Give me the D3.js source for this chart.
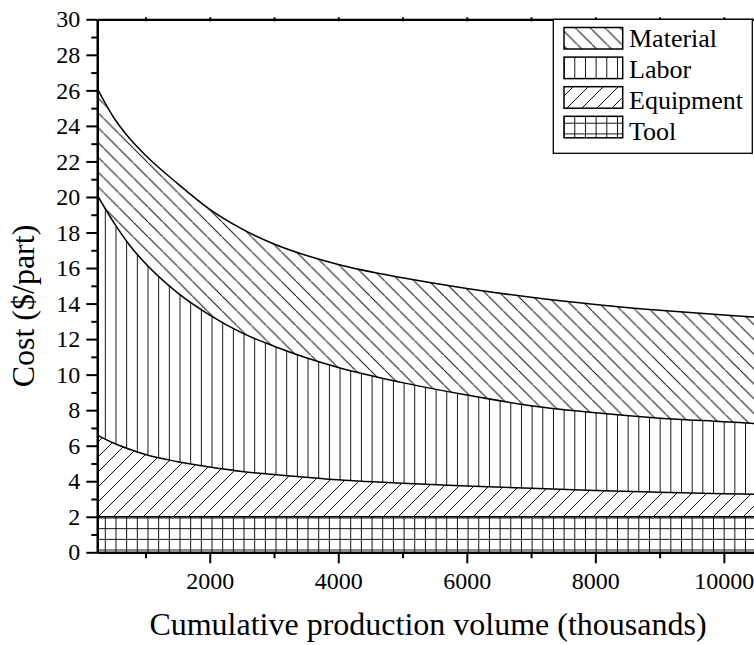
<!DOCTYPE html>
<html lang="en">
<head>
<meta charset="UTF-8">
<title>Cost breakdown vs cumulative production volume</title>
<script src="https://d3js.org/d3.v7.min.js"></script>
<style>
  body { margin: 0; background: #fff; }
  svg text { font-family: "Liberation Serif", "Times New Roman", serif; fill: #000; }
</style>
</head>
<body>
<svg id="chart" width="754" height="645"></svg>
<script>
// data (cost in $/part, volume in thousands)
const volume    = [250, 500, 750, 1000, 1500, 2000, 2500, 3000, 4000, 5000, 6000, 7000, 8000, 9000, 10000, 10500];
const tool      = [2, 2, 2, 2, 2, 2, 2, 2, 2, 2, 2, 2, 2, 2, 2, 2];
const equipment = [4.6, 4.15, 3.8, 3.5, 3.1, 2.8, 2.55, 2.38, 2.08, 1.88, 1.73, 1.6, 1.48, 1.38, 1.3, 1.27];
const labor     = [13.5, 12.45, 11.5, 10.75, 9.5, 8.55, 7.8, 7.22, 6.32, 5.67, 5.12, 4.65, 4.37, 4.17, 4.05, 3.98];
const material  = [6.0, 5.9, 6.0, 6.1, 6.15, 5.95, 5.85, 5.75, 5.8, 5.9, 6.0, 6.1, 6.1, 6.07, 6.0, 5.98];

const seriesKeys = ["tool", "equipment", "labor", "material"];
const legendKeys = ["material", "labor", "equipment", "tool"];
const legendLabels = {material: "Material", labor: "Labor", equipment: "Equipment", tool: "Tool"};

const yMajor = d3.range(0, 31, 2);
const yMinor = d3.range(1, 30, 2);
const xMajor = [2000, 4000, 6000, 8000, 10000];
const xMinor = [1000, 3000, 5000, 7000, 9000];

const serif = '"Liberation Serif", "Times New Roman", serif';

const rows = volume.map((v, i) => ({
  volume: v, tool: tool[i], equipment: equipment[i], labor: labor[i], material: material[i]
}));

const svg = d3.select("#chart");
const plotL = 97.3, plotR = 756, plotT = 19.3, plotB = 552.3;

const x = d3.scaleLinear().domain([250, 10500]).range([plotL, plotR]);
const y = d3.scaleLinear().domain([0, 30]).range([plotB, plotT]);

// hatch patterns
const defs = svg.append("defs");
function pattern(id, w, h, d, px, py) {
  defs.append("pattern")
    .attr("id", id)
    .attr("patternUnits", "userSpaceOnUse")
    .attr("x", px || 0).attr("y", py || 0)
    .attr("width", w).attr("height", h)
    .append("path")
    .attr("d", d)
    .attr("stroke", "#111")
    .attr("stroke-width", 1)
    .attr("fill", "none");
}
pattern("pat-material", 14.8, 14.8, "M-2,-2L16.8,16.8");
pattern("pat-equipment", 15, 15, "M-2,17L17,-2");
pattern("pat-labor", 10.67, 10, "M5.33,-1V11", 99.97, 0);
pattern("pat-tool", 10.67, 10.67, "M5.33,-1V11.67M-1,5.33H11.67", 99.97, 544.67);

defs.append("clipPath").attr("id", "plot-clip")
  .append("rect").attr("x", plotL).attr("y", plotT)
  .attr("width", plotR - plotL).attr("height", plotB - plotT);

const stack = d3.stack().keys(seriesKeys);
const layers = stack(rows);

const area = d3.area()
  .x(d => x(d.data.volume))
  .y0(d => y(d[0]))
  .y1(d => y(d[1]))
  .curve(d3.curveMonotoneX);

const topLine = d3.line()
  .x(d => x(d.data.volume))
  .y(d => y(d[1]))
  .curve(d3.curveMonotoneX);

const plot = svg.append("g").attr("clip-path", "url(#plot-clip)");

plot.selectAll("path.area")
  .data(layers)
  .join("path")
  .attr("class", "area")
  .attr("d", area)
  .attr("fill", d => "url(#pat-" + d.key + ")");

plot.selectAll("path.edge")
  .data(layers)
  .join("path")
  .attr("class", "edge")
  .attr("d", topLine)
  .attr("fill", "none")
  .attr("stroke", "#000")
  .attr("stroke-width", 1.5);

// axes
const yAxis = svg.append("g")
  .attr("transform", "translate(" + plotL + ",0)")
  .call(d3.axisLeft(y).tickValues(yMajor).tickSize(11).tickSizeOuter(0).tickPadding(6));
svg.append("g")
  .attr("transform", "translate(" + plotL + ",0)")
  .call(d3.axisLeft(y).tickValues(yMinor).tickSize(6).tickSizeOuter(0).tickFormat(""));

const xAxis = svg.append("g")
  .attr("transform", "translate(0," + plotB + ")")
  .call(d3.axisBottom(x).tickValues(xMajor).tickSize(11).tickSizeOuter(0).tickFormat(d3.format("d")));
svg.append("g")
  .attr("transform", "translate(0," + plotB + ")")
  .call(d3.axisBottom(x).tickValues(xMinor).tickSize(6).tickSizeOuter(0).tickFormat(""));

// top frame with tiny ticks
const topAxis = svg.append("g")
  .attr("transform", "translate(0," + plotT + ")")
  .call(d3.axisTop(x).tickValues(d3.range(1000, 10001, 1000)).tickSize(2).tickSizeOuter(0).tickFormat(""));

svg.selectAll(".domain").attr("stroke", "#000").attr("stroke-width", 2.2);
svg.selectAll(".tick line").attr("stroke", "#000").attr("stroke-width", 2);
topAxis.selectAll(".tick line").attr("y1", -2).attr("y2", 2);

yAxis.selectAll("text").style("font-family", serif).style("font-size", "24px");
xAxis.selectAll("text").style("font-family", serif).style("font-size", "24px")
  .attr("y", 37).attr("dy", 0);

// axis titles
svg.append("text")
  .attr("x", 428).attr("y", 635)
  .attr("text-anchor", "middle")
  .style("font-family", serif).style("font-size", "32px")
  .text("Cumulative production volume (thousands)");

svg.append("text")
  .attr("transform", "translate(34,306) rotate(-90)")
  .attr("text-anchor", "middle")
  .style("font-family", serif).style("font-size", "32px")
  .text("Cost ($/part)");

// legend
const legend = svg.append("g");
legend.append("rect")
  .attr("x", 553.3).attr("y", 19.3)
  .attr("width", 199).attr("height", 134)
  .attr("fill", "#fff")
  .attr("stroke", "#000").attr("stroke-width", 1.3);

const item = legend.selectAll("g.item")
  .data(legendKeys)
  .join("g")
  .attr("class", "item");

item.append("rect")
  .attr("x", 564).attr("y", (d, i) => 27.5 + i * 29.6)
  .attr("width", 58.7).attr("height", 21.5)
  .attr("fill", d => "url(#pat-" + d + ")")
  .attr("stroke", "#000").attr("stroke-width", 1.5);

item.append("text")
  .attr("x", 629).attr("y", (d, i) => 47 + i * 31)
  .style("font-family", serif).style("font-size", "26px")
  .text(d => legendLabels[d]);
</script>
</body>
</html>
